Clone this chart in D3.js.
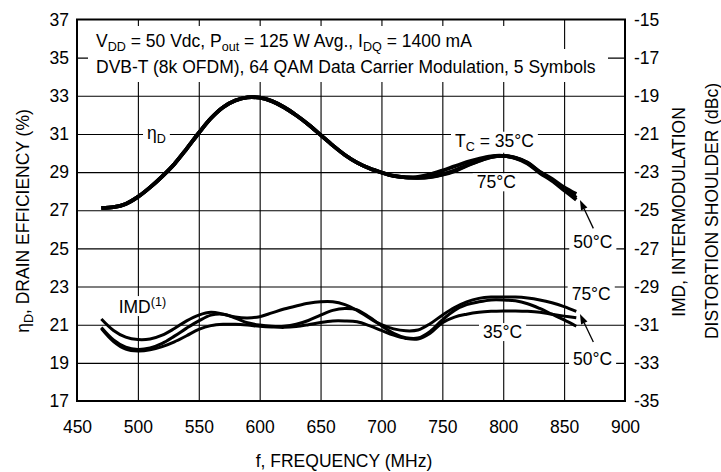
<!DOCTYPE html>
<html>
<head>
<meta charset="utf-8">
<script src="https://cdn.jsdelivr.net/npm/d3@7"></script>
<style>
  body { margin: 0; background: #fff; }
  svg { display: block; }
  text { font-family: "Liberation Sans", Arial, Helvetica, sans-serif; fill: #000; }
</style>
</head>
<body>
<svg id="chart" width="721" height="472"></svg>
<script>
// frequency (MHz) for every curve
const freq = [470, 480, 490, 500, 510, 520, 530, 540, 550, 560, 570, 580, 590, 600,
  610, 620, 630, 640, 650, 660, 670, 680, 690, 700, 710, 720, 730, 740, 750, 760,
  770, 780, 790, 800, 810, 820, 830, 840, 850, 860];

// drain efficiency (%), left axis
const eff35 = [27.12, 27.16, 27.33, 27.7, 28.2, 28.78, 29.43, 30.22, 31.05, 31.82, 32.4, 32.75, 32.92, 32.9,
  32.72, 32.4, 31.98, 31.5, 30.95, 30.4, 29.9, 29.5, 29.2, 28.98, 28.8, 28.72, 28.75, 28.88, 29.08, 29.3,
  29.52, 29.7, 29.83, 29.85, 29.75, 29.5, 29.02, 28.65, 28.2, 27.85];
const eff75 = [27.12, 27.16, 27.33, 27.7, 28.2, 28.78, 29.43, 30.22, 31.05, 31.82, 32.4, 32.75, 32.92, 32.9,
  32.72, 32.4, 31.98, 31.5, 30.95, 30.4, 29.9, 29.5, 29.2, 28.98, 28.8, 28.72, 28.7, 28.75, 28.88, 29.08,
  29.35, 29.6, 29.8, 29.85, 29.75, 29.48, 29.0, 28.6, 28.12, 27.65];
const eff50 = [27.12, 27.16, 27.33, 27.7, 28.2, 28.78, 29.43, 30.22, 31.05, 31.82, 32.4, 32.75, 32.92, 32.9,
  32.72, 32.4, 31.98, 31.5, 30.95, 30.4, 29.9, 29.5, 29.2, 28.98, 28.8, 28.72, 28.7, 28.74, 28.86, 29.05,
  29.33, 29.58, 29.78, 29.85, 29.73, 29.45, 28.96, 28.55, 28.05, 27.55];

// IMD (dBc), right axis
const imd75 = [-30.70, -31.30, -31.65, -31.78, -31.75, -31.55, -31.20, -30.80, -30.50, -30.35, -30.45, -30.60, -30.65, -30.58,
  -30.38, -30.18, -30.02, -29.88, -29.80, -29.80, -29.95, -30.25, -30.65, -31.00, -31.22, -31.32, -31.28, -30.95, -30.50, -30.10,
  -29.80, -29.62, -29.55, -29.55, -29.55, -29.60, -29.70, -29.85, -30.05, -30.30];
const imd35 = [-31.15, -31.80, -32.18, -32.30, -32.22, -31.98, -31.60, -31.18, -30.80, -30.50, -30.45, -30.65, -30.90, -31.02,
  -31.08, -31.08, -30.98, -30.78, -30.50, -30.25, -30.15, -30.22, -30.60, -31.05, -31.45, -31.68, -31.70, -31.35, -30.75, -30.25,
  -29.95, -29.80, -29.70, -29.70, -29.75, -29.90, -30.15, -30.45, -30.75, -31.08];
const imd50 = [-31.20, -31.88, -32.28, -32.38, -32.32, -32.15, -31.90, -31.58, -31.25, -31.05, -30.98, -30.98, -31.02, -31.08,
  -31.12, -31.14, -31.10, -31.00, -30.88, -30.80, -30.80, -30.85, -31.05, -31.30, -31.55, -31.72, -31.75, -31.45, -30.90, -30.60,
  -30.45, -30.35, -30.30, -30.28, -30.28, -30.30, -30.35, -30.45, -30.55, -30.64];

// axis ticks
const xTicks = [450, 500, 550, 600, 650, 700, 750, 800, 850, 900];
const effTicks = [17, 19, 21, 23, 25, 27, 29, 31, 33, 35, 37];
const imdTicks = [-35, -33, -31, -29, -27, -25, -23, -21, -19, -17, -15];

const svg = d3.select("#chart");
const plot = { left: 77, right: 625, top: 19.5, bottom: 401 };
const fs = 17.5;

const x = d3.scaleLinear().domain([450, 900]).range([plot.left, plot.right]);
const yL = d3.scaleLinear().domain([17, 37]).range([plot.bottom, plot.top]);
const yR = d3.scaleLinear().domain([-35, -15]).range([plot.bottom, plot.top]);

// grid lines
const gridX = svg.append("g")
  .attr("transform", `translate(0,${plot.bottom})`)
  .call(d3.axisBottom(x).tickValues(xTicks.slice(1, -1)).tickSize(-(plot.bottom - plot.top)).tickFormat(""));
const gridY = svg.append("g")
  .attr("transform", `translate(${plot.left},0)`)
  .call(d3.axisLeft(yL).tickValues(effTicks.slice(1, -1)).tickSize(-(plot.right - plot.left)).tickFormat(""));
[gridX, gridY].forEach(g => {
  g.select(".domain").remove();
  g.selectAll("line").attr("stroke", "#000").attr("stroke-width", 1.1);
});

// white boxes behind the condition text
const boxes = svg.append("g");
boxes.append("rect").attr("x", 88).attr("y", 26).attr("width", 440).attr("height", 26).attr("fill", "#fff");
boxes.append("rect").attr("x", 88).attr("y", 49).attr("width", 520).attr("height", 33).attr("fill", "#fff");

// frame
svg.append("rect")
  .attr("x", plot.left).attr("y", plot.top)
  .attr("width", plot.right - plot.left).attr("height", plot.bottom - plot.top)
  .attr("fill", "none").attr("stroke", "#000").attr("stroke-width", 2);

// tick labels
function styleAxis(g) {
  g.select(".domain").remove();
  g.selectAll("text").attr("font-size", fs).attr("font-family", null).attr("fill", "#000");
}
svg.append("g").attr("transform", `translate(0,${plot.bottom})`)
  .call(d3.axisBottom(x).tickValues(xTicks).tickSize(0).tickPadding(19.5))
  .call(styleAxis);
svg.append("g").attr("transform", `translate(${plot.left},0)`)
  .call(d3.axisLeft(yL).tickValues(effTicks).tickSize(0).tickPadding(8))
  .call(styleAxis);
svg.append("g").attr("transform", `translate(${plot.right},0)`)
  .call(d3.axisRight(yR).tickValues(imdTicks).tickSize(0).tickPadding(9).tickFormat(d => "-" + Math.abs(d)))
  .call(styleAxis);

// curves
const effLine = d3.line().x((d, i) => x(freq[i])).y(d => yL(d)).curve(d3.curveCatmullRom.alpha(0.5));
const imdLine = d3.line().x((d, i) => x(freq[i])).y(d => yR(d)).curve(d3.curveCatmullRom.alpha(0.5));

svg.append("g").selectAll("path")
  .data([eff50, eff75, eff35])
  .join("path")
  .attr("d", effLine)
  .attr("fill", "none").attr("stroke", "#000").attr("stroke-width", 3.8);

svg.append("g").selectAll("path")
  .data([imd50, imd35, imd75])
  .join("path")
  .attr("d", imdLine)
  .attr("fill", "none").attr("stroke", "#000").attr("stroke-width", 3);

// labels on the curves (position in frequency / efficiency units)
const labels = [
  { f: 507.5, v: 30.73, parts: [["η", 0], ["D", 1]] },
  { f: 760.4, v: 30.33, parts: [["T", 0], ["C", 1], [" = 35°C", 0]] },
  { f: 778.2, v: 28.15, parts: [["75°C", 0]] },
  { f: 857.5, v: 25.0, parts: [["50°C", 0]] },
  { f: 484.2, v: 21.61, parts: [["IMD", 0], ["(1)", 2]] },
  { f: 856.2, v: 22.29, parts: [["75°C", 0]] },
  { f: 783.4, v: 20.30, parts: [["35°C", 0]] },
  { f: 857.3, v: 18.89, parts: [["50°C", 0]] }
];

function richText(g, px, py, parts, size) {
  const t = g.append("text").attr("x", px).attr("y", py).attr("font-size", size);
  let shift = 0;
  parts.forEach(([s, kind]) => {
    const target = kind === 1 ? 4 : kind === 2 ? -7 : 0;
    t.append("tspan")
      .attr("dy", target - shift)
      .attr("font-size", kind ? size * 0.72 : size)
      .text(s);
    shift = target;
  });
  return t;
}

const lab = svg.append("g");
labels.forEach(l => {
  const g = lab.append("g");
  const bg = g.append("rect").attr("fill", "#fff");
  const t = richText(g, x(l.f), yL(l.v), l.parts, fs);
  const b = t.node().getBBox();
  bg.attr("x", b.x - 4).attr("y", b.y + 1).attr("width", b.width + 8).attr("height", b.height - 2);
});

// arrows pointing at the 50°C curves
const arrows = [
  { f0: 874.0, v0: 26.05, f1: 863.0, v1: 27.54 },
  { f0: 874.0, v0: 20.09, f1: 863.0, v1: 21.56 }
];
arrows.forEach(a => {
  const x0 = x(a.f0), y0 = yL(a.v0), x1 = x(a.f1), y1 = yL(a.v1);
  const ang = Math.atan2(y1 - y0, x1 - x0);
  const len = 10, w = 3.5;
  const bx = x1 - len * Math.cos(ang), by = y1 - len * Math.sin(ang);
  svg.append("line").attr("x1", x0).attr("y1", y0).attr("x2", bx).attr("y2", by)
    .attr("stroke", "#000").attr("stroke-width", 1.3);
  svg.append("path")
    .attr("d", `M${x1},${y1}L${bx + w * Math.sin(ang)},${by - w * Math.cos(ang)}L${bx - w * Math.sin(ang)},${by + w * Math.cos(ang)}Z`)
    .attr("fill", "#000");
});

// condition text
richText(svg, 96, 47, [["V", 0], ["DD", 1], [" = 50 Vdc, P", 0], ["out", 1], [" = 125 W Avg., I", 0], ["DQ", 1], [" = 1400 mA", 0]], fs);
svg.append("text").attr("x", 96).attr("y", 73.3).attr("font-size", fs)
  .text("DVB-T (8k OFDM), 64 QAM Data Carrier Modulation, 5 Symbols");

// axis titles
svg.append("text").attr("x", 344).attr("y", 467).attr("font-size", fs).attr("text-anchor", "middle")
  .text("f, FREQUENCY (MHz)");

const leftTitle = svg.append("text")
  .attr("transform", "translate(28.5,221) rotate(-90)")
  .attr("text-anchor", "middle").attr("font-size", fs);
leftTitle.append("tspan").text("η");
leftTitle.append("tspan").attr("dy", 4).attr("font-size", fs * 0.72).text("D");
leftTitle.append("tspan").attr("dy", -4).text(", DRAIN EFFICIENCY (%)");

svg.append("text").attr("transform", "translate(685,212) rotate(-90)")
  .attr("text-anchor", "middle").attr("font-size", fs)
  .text("IMD, INTERMODULATION");
svg.append("text").attr("transform", "translate(718,211) rotate(-90)")
  .attr("text-anchor", "middle").attr("font-size", fs)
  .text("DISTORTION SHOULDER (dBc)");
</script>
</body>
</html>
